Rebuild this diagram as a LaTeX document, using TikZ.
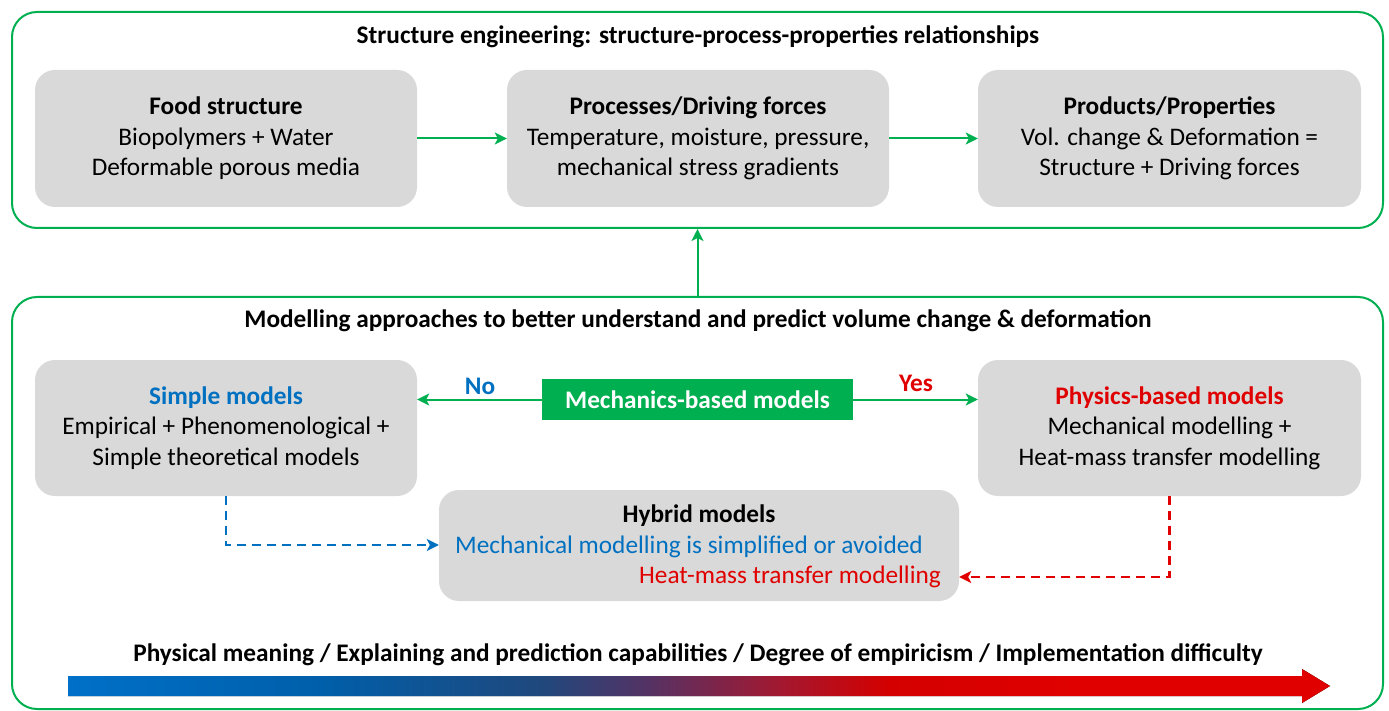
\documentclass[tikz,border=0pt]{standalone}
\usepackage{fontspec}
\setmainfont{Carlito}
\usetikzlibrary{arrows.meta}
\definecolor{gframe}{HTML}{00B050}
\definecolor{gbox}{HTML}{D9D9D9}
\definecolor{mblue}{HTML}{0070C0}
\definecolor{mred}{HTML}{E00000}
\definecolor{gc1}{RGB}{0,112,200}
\definecolor{gc1b}{RGB}{0,95,170}
\definecolor{gc2}{RGB}{31,72,125}
\definecolor{gc3}{RGB}{85,50,100}
\definecolor{gc4}{RGB}{160,25,50}
\definecolor{gc5}{RGB}{212,0,0}
\definecolor{gc6}{RGB}{224,0,0}
\pgfdeclarehorizontalshading{gradarrow}{100bp}{color(0bp)=(gc1); color(25bp)=(gc1); color(35bp)=(gc1b); color(43.7bp)=(gc2); color(48bp)=(gc3); color(53bp)=(gc4); color(57.5bp)=(gc5); color(65bp)=(gc6); color(100bp)=(gc6)}
\tikzset{
  frame/.style={draw=gframe, line width=2pt, rounded corners=25pt, inner sep=0pt},
  graybox/.style={fill=gbox, rounded corners=20pt, inner sep=0pt, align=center, text=black},
  garrow/.style={draw=gframe, line width=2pt, -{Stealth[length=12pt,width=12pt,inset=3pt]}},
  bdash/.style={draw=mblue, line width=2.5pt, dash pattern=on 9pt off 6pt, -{Stealth[length=12pt,width=12pt,inset=3pt]}},
  rdash/.style={draw=mred, line width=2.5pt, dash pattern=on 9pt off 6pt, -{Stealth[length=12pt,width=12pt,inset=3pt]}},
  lbl/.style={inner sep=0pt}
}
\begin{document}
\begin{tikzpicture}[x=1pt,y=-1pt,font=\fontsize{25.3}{30.5}\selectfont]
\useasboundingbox (0,0) rectangle (1389,711);
% frames
\node[frame, minimum width=1371pt, minimum height=216pt] (topframe) at (697.5,120) {};
\node[frame, minimum width=1371pt, minimum height=412pt] (botframe) at (697.5,503) {};
% top titles
\node[lbl] (t1) at (698,37) {\textbf{Structure engineering: structure-process-properties relationships}};
\node[graybox, minimum width=382pt, minimum height=137pt] (fs) at (226,138.5) {\textbf{Food structure}\\Biopolymers + Water\\Deformable porous media};
\node[graybox, minimum width=382pt, minimum height=137pt] (pd) at (698,138.5) {\textbf{Processes/Driving forces}\\Temperature, moisture, pressure,\\mechanical stress gradients};
\node[graybox, minimum width=383pt, minimum height=137pt] (pp) at (1169.5,138.5) {\textbf{Products/Properties}\\Vol. change \& Deformation =\\Structure + Driving forces};
\draw[garrow] (fs.east) -- (pd.west);
\draw[garrow] (pd.east) -- (pp.west);
\draw[garrow] (botframe.north) -- (topframe.south);
% bottom
\node[lbl] (t2) at (698,321) {\textbf{Modelling approaches to better understand and predict volume change \& deformation}};
\node[graybox, minimum width=382pt, minimum height=136pt] (simple) at (226,428) {\textcolor{mblue}{\textbf{Simple models}}\\Empirical + Phenomenological +\\Simple theoretical models};
\node[graybox, minimum width=383pt, minimum height=136pt] (phys) at (1169.5,428) {\textcolor{mred}{\textbf{Physics-based models}}\\Mechanical modelling +\\Heat-mass transfer modelling};
\node[fill=gframe, text=white, minimum width=311pt, minimum height=41pt, inner sep=0pt] (mech) at (697.5,399.5) {\textbf{Mechanics-based models}};
\draw[garrow] (mech.west) -- (mech.west -| simple.east);
\draw[garrow] (mech.east) -- (mech.east -| phys.west);
\node[lbl, text=mblue] (no) at (480,386) {\textbf{No}};
\node[lbl, text=mred] (yes) at (916,383) {\textbf{Yes}};
\node[graybox, minimum width=520pt, minimum height=111pt] (hyb) at (699,545.5) {};
\node[lbl] (htitle) at (699,516) {\textbf{Hybrid models}};
\node[lbl, text=mblue] (hblue) at (689,547) {Mechanical modelling is simplified or avoided};
\node[lbl, text=mred, anchor=east] (hred) at (941,577) {Heat-mass transfer modelling};
\coordinate (bend) at (hyb.west |- 0,545);
\coordinate (rend) at (hyb.east |- 0,577);
\draw[bdash] (simple.south) |- (bend);
\draw[rdash] (phys.south) |- (rend);
% gradient arrow
\node[lbl] (t3) at (698,655) {\textbf{Physical meaning / Explaining and prediction capabilities / Degree of empiricism / Implementation difficulty}};
\fill[shading=gradarrow] (68,676) -- (1302,676) -- (1302,669) -- (1330,686) -- (1302,703) -- (1302,696) -- (68,696) -- cycle;
\end{tikzpicture}
\end{document}
